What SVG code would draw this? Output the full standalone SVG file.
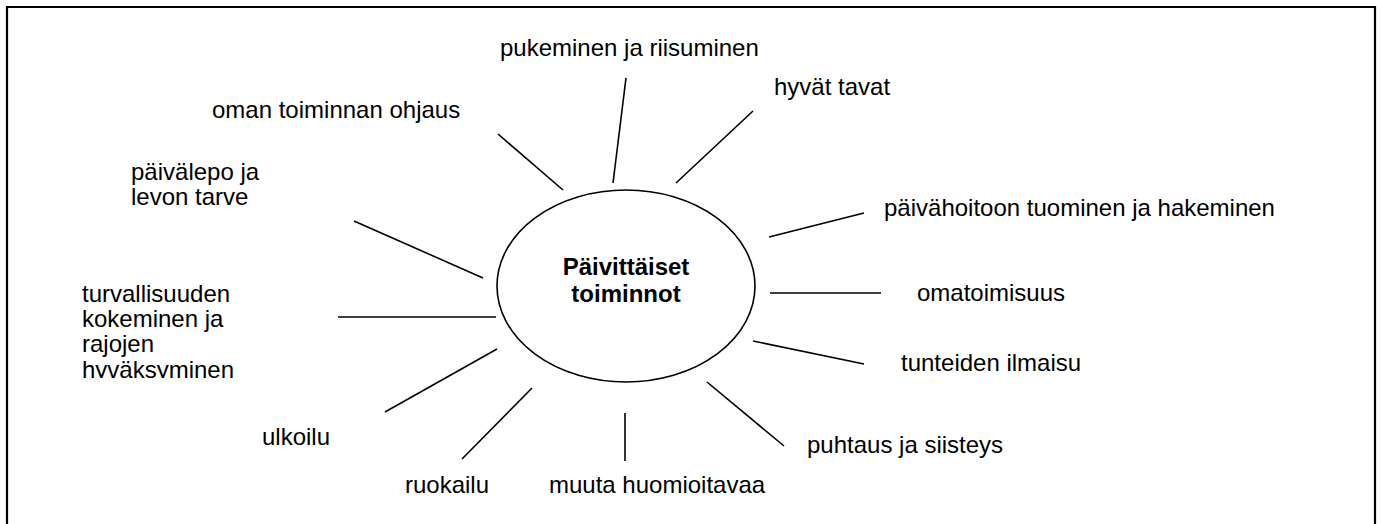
<svg xmlns="http://www.w3.org/2000/svg" width="1381" height="524" viewBox="0 0 1381 524">
<style>
.t{font-family:"Liberation Sans",Arial,sans-serif;font-size:24px;fill:#000}
.b{font-weight:bold;text-anchor:middle}
.c line{stroke:#000;stroke-width:1.6}
</style>
<defs>
<clipPath id="clipT"><rect x="0" y="280" width="330" height="98"/></clipPath>
</defs>
<rect width="1381" height="524" fill="#fff"/>
<path d="M7 530 V7 H1375 V530" fill="none" stroke="#000" stroke-width="2.2"/>
<g id="connectors" class="c">
<line x1="626" y1="78" x2="613" y2="183"/>
<line x1="753" y1="111" x2="676" y2="183"/>
<line x1="498" y1="134" x2="563" y2="190"/>
<line x1="354" y1="221" x2="483" y2="278"/>
<line x1="338" y1="317" x2="496" y2="317"/>
<line x1="385" y1="412" x2="497" y2="349"/>
<line x1="462" y1="459" x2="532" y2="388"/>
<line x1="625" y1="413" x2="625" y2="461"/>
<line x1="707" y1="382" x2="784" y2="446"/>
<line x1="753" y1="341" x2="864" y2="364"/>
<line x1="770" y1="293" x2="881" y2="293"/>
<line x1="769" y1="237" x2="864" y2="213"/>
</g>
<g id="center">
<ellipse cx="626" cy="286" rx="129" ry="96" fill="none" stroke="#000" stroke-width="1.6"/>
<text class="t b" x="626" y="275">Päivittäiset</text>
<text class="t b" x="626" y="302">toiminnot</text>
</g>
<g id="n-pukeminen"><text class="t" x="500" y="56">pukeminen ja riisuminen</text></g>
<g id="n-hyvat"><text class="t" x="774" y="95">hyvät tavat</text></g>
<g id="n-oman"><text class="t" x="212" y="118">oman toiminnan ohjaus</text></g>
<g id="n-paivalepo"><text class="t" x="131" y="180">päivälepo ja</text><text class="t" x="131" y="205">levon tarve</text></g>
<g id="n-paivahoitoon"><text class="t" x="884" y="216">päivähoitoon tuominen ja hakeminen</text></g>
<g id="n-omatoimisuus"><text class="t" x="917" y="301">omatoimisuus</text></g>
<g id="n-turvallisuuden" clip-path="url(#clipT)"><text class="t" x="82" y="302">turvallisuuden</text><text class="t" x="82" y="327">kokeminen ja</text><text class="t" x="82" y="352">rajojen</text><text class="t" x="82" y="378">hyväksyminen</text></g>
<g id="n-tunteiden"><text class="t" x="901" y="371">tunteiden ilmaisu</text></g>
<g id="n-ulkoilu"><text class="t" x="262" y="445">ulkoilu</text></g>
<g id="n-ruokailu"><text class="t" x="405" y="493">ruokailu</text></g>
<g id="n-muuta"><text class="t" x="549" y="493">muuta huomioitavaa</text></g>
<g id="n-puhtaus"><text class="t" x="807" y="453">puhtaus ja siisteys</text></g>
</svg>
